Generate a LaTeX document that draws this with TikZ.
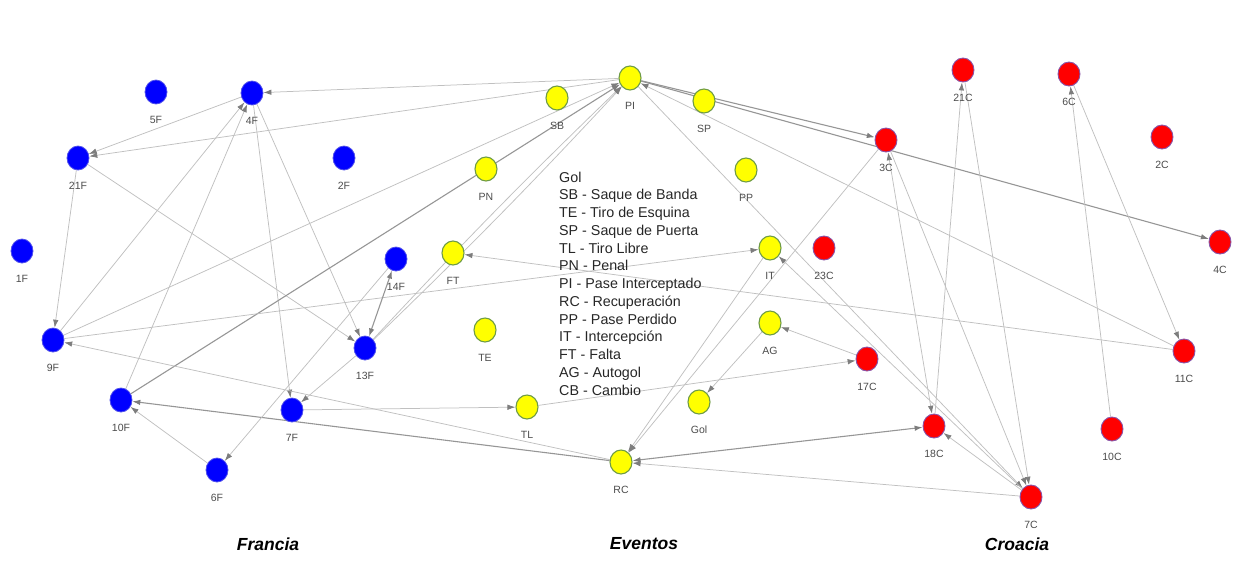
\documentclass[tikz,border=0pt]{standalone}
\usepackage{fontspec}
\setmainfont{Liberation Sans}
\usetikzlibrary{arrows.meta,shapes.geometric}
\definecolor{linec}{RGB}{192,192,192}
\definecolor{linek}{RGB}{150,150,150}
\definecolor{tipc}{RGB}{125,125,125}
\definecolor{frb}{RGB}{0,0,255}
\definecolor{frd}{RGB}{80,80,235}
\definecolor{evf}{RGB}{255,255,0}
\definecolor{evd}{RGB}{110,155,70}
\definecolor{crf}{RGB}{255,0,0}
\definecolor{crd}{RGB}{135,85,170}
\definecolor{labc}{RGB}{75,75,75}
\pgfdeclarelayer{bg}
\pgfsetlayers{bg,main}
\newcommand\mknode[5]{\node[#1] (#2) at (#3,#4) {}; \node[lab] (l#2) at (#3,#4+28) {#5};}
\begin{document}
\begin{tikzpicture}[x=1pt,y=-1pt,
  nd/.style={ellipse,minimum width=22pt,minimum height=24pt,inner sep=0pt},
  fr/.style={nd,fill=frb,draw=frd,line width=0.8pt},
  ev/.style={nd,fill=evf,draw=evd,line width=1.1pt},
  cr/.style={nd,fill=crf,draw=crd,line width=0.9pt},
  lab/.style={font=\fontsize{10.5}{12}\selectfont,text=labc,inner sep=0pt,text height=7.5pt,text depth=0pt},
  leg/.style={font=\fontsize{14.3}{17}\selectfont,text=black!85,inner sep=0pt,anchor=base west},
  ttl/.style={font=\fontsize{17.5}{20}\selectfont\bfseries\itshape,inner sep=0pt},
  ed/.style={draw=linec,line width=0.75pt,-{Latex[length=8pt,width=5.5pt,color=tipc]}},
  edk/.style={ed,draw=linek,line width=1.1pt},
  edb/.style={{Latex[length=8pt,width=5.5pt,color=tipc]}-{Latex[length=8pt,width=5.5pt,color=tipc]}}
]
\useasboundingbox (0,0) rectangle (1235,574);
% Francia
\mknode{fr}{5F}{156}{92}{5F}
\mknode{fr}{4F}{252}{93}{4F}
\mknode{fr}{21F}{78}{158}{21F}
\mknode{fr}{2F}{344}{158}{2F}
\mknode{fr}{1F}{22}{251}{1F}
\mknode{fr}{14F}{396}{259}{14F}
\mknode{fr}{9F}{53}{340}{9F}
\mknode{fr}{13F}{365}{348}{13F}
\mknode{fr}{10F}{121}{400}{10F}
\mknode{fr}{7F}{292}{410}{7F}
\mknode{fr}{6F}{217}{470}{6F}
% Eventos
\mknode{ev}{PI}{630}{78}{PI}
\mknode{ev}{SB}{557}{98}{SB}
\mknode{ev}{SP}{704}{101}{SP}
\mknode{ev}{PN}{486}{169}{PN}
\mknode{ev}{PP}{746}{170}{PP}
\mknode{ev}{FT}{453}{253}{FT}
\mknode{ev}{IT}{770}{248}{IT}
\mknode{ev}{TE}{485}{330}{TE}
\mknode{ev}{AG}{770}{323}{AG}
\mknode{ev}{TL}{527}{407}{TL}
\mknode{ev}{Gol}{699}{402}{Gol}
\mknode{ev}{RC}{621}{462}{RC}
% Croacia
\mknode{cr}{21C}{963}{70}{21C}
\mknode{cr}{6C}{1069}{74}{6C}
\mknode{cr}{3C}{886}{140}{3C}
\mknode{cr}{2C}{1162}{137}{2C}
\mknode{cr}{4C}{1220}{242}{4C}
\mknode{cr}{23C}{824}{248}{23C}
\mknode{cr}{11C}{1184}{351}{11C}
\mknode{cr}{17C}{867}{359}{17C}
\mknode{cr}{18C}{934}{426}{18C}
\mknode{cr}{10C}{1112}{429}{10C}
\mknode{cr}{7C}{1031}{497}{7C}
% legend
\node[leg] (lg1) at (559,182) {Gol};
\node[leg] (lg2) at (559,199.75) {SB - Saque de Banda};
\node[leg] (lg3) at (559,217.5) {TE - Tiro de Esquina};
\node[leg] (lg4) at (559,235.25) {SP - Saque de Puerta};
\node[leg] (lg5) at (559,253) {TL - Tiro Libre};
\node[leg] (lg6) at (559,270.75) {PN - Penal};
\node[leg] (lg7) at (559,288.5) {PI - Pase Interceptado};
\node[leg] (lg8) at (559,306.25) {RC - Recuperación};
\node[leg] (lg9) at (559,324) {PP - Pase Perdido};
\node[leg] (lg10) at (559,341.75) {IT - Intercepción};
\node[leg] (lg11) at (559,359.5) {FT - Falta};
\node[leg] (lg12) at (559,377.25) {AG - Autogol};
\node[leg] (lg13) at (559,395) {CB - Cambio};
% titles
\node[ttl] (tF) at (268,544) {Francia};
\node[ttl] (tE) at (644,544) {Eventos};
\node[ttl] (tC) at (1017,544) {Croacia};
% edges
\begin{pgfonlayer}{bg}
\draw[ed] (PI) -- (4F);
\draw[ed] (PI) -- (21F);
\draw[ed] (4F) -- (21F);
\draw[ed] (9F) -- (4F);
\draw[ed] (10F) -- (4F);
\draw[ed] (4F) -- (7F);
\draw[ed] (4F) -- (13F);
\draw[ed] (21F) -- (13F);
\draw[ed] (21F) -- (9F);
\draw[ed] (9F) -- (PI);
\draw[edk] (10F) -- (PI);
\draw[ed] (9F) -- (IT);
\draw[ed] (RC) -- (9F);
\draw[edk] (RC) -- (10F);
\draw[ed] (6F) -- (10F);
\draw[ed] (14F) -- (6F);
\draw[ed] (13F) -- (7F);
\draw[edk,edb] (13F) -- (14F);
\draw[ed] (13F) to[bend left=1.5] (PI);
\draw[ed] (13F) to[bend right=1.5] (PI);
\draw[ed] (11C) -- (FT);
\draw[edk] (PI) -- (3C);
\draw[edk] (PI) -- (4C);
\draw[ed] (11C) -- (PI);
\draw[ed] (PI) -- (7C);
\draw[ed] (7C) -- (IT);
\draw[ed] (3C) -- (RC);
\draw[ed] (IT) -- (RC);
\draw[ed] (17C) -- (AG);
\draw[ed] (AG) -- (Gol);
\draw[ed] (TL) -- (17C);
\draw[ed] (7F) -- (TL);
\draw[edk,edb] (RC) -- (18C);
\draw[ed] (7C) -- (RC);
\draw[ed] (7C) -- (18C);
\draw[ed,edb] (3C) -- (18C);
\draw[ed] (18C) -- (21C);
\draw[ed] (21C) -- (7C);
\draw[ed] (3C) -- (7C);
\draw[ed] (6C) -- (11C);
\draw[ed] (10C) -- (6C);
\end{pgfonlayer}
\end{tikzpicture}
\end{document}
